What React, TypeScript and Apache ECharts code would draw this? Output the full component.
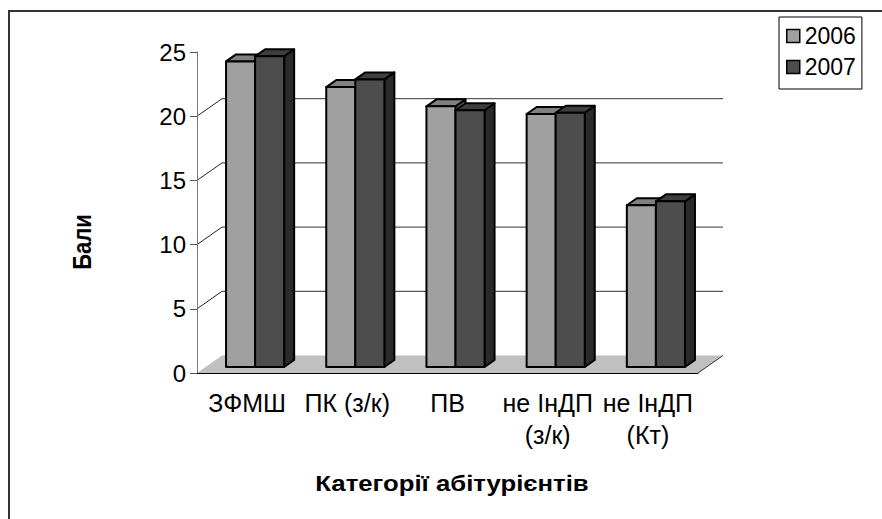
import React, { useEffect, useRef } from "react";
import * as echarts from "echarts";

const categories = ["ЗФМШ", "ПК (з/к)", "ПВ", "не ІнДП\n(з/к)", "не ІнДП\n(Кт)"];
const seriesNames = ["2006", "2007"];
const values2006 = [23.8, 21.8, 20.3, 19.7, 12.6];
const values2007 = [24.2, 22.4, 20.0, 19.8, 12.9];
const gridValues = [0, 5, 10, 15, 20];
const yTitle = "Бали";
const xTitle = "Категорії абітурієнтів";

const FONT = "'Liberation Sans', Arial, sans-serif";
const WALL_DX = 25;
const WALL_DY = -17.5;
const BAR_OFF_X = 8;
const BAR_OFF_Y = -6;
const BAR_DX = 10;
const BAR_DY = -7;
const BAR_FRAC = 0.29;

const faceColors = [
  { front: "#a0a0a0", top: "#808080", side: "#6a6a6a" },
  { front: "#4d4d4d", top: "#3e3e3e", side: "#2a2a2a" },
];

function makeBarRender(s: number) {
  return (params: any, api: any) => {
    const i = api.value(0);
    const v = api.value(1);
    const base = api.coord([i, 0]);
    const top = api.coord([i, v]);
    const cw = api.size([1, 0])[0];
    const bw = cw * BAR_FRAC;
    const x0 = base[0] - bw + s * bw + BAR_OFF_X;
    const x1 = x0 + bw;
    const yb = base[1] + BAR_OFF_Y;
    const yt = top[1] + BAR_OFF_Y;
    const c = faceColors[s];
    const stroke = { stroke: "#000", lineWidth: 2, lineJoin: "round" };
    return {
      type: "group",
      children: [
        {
          type: "polygon",
          shape: { points: [[x1, yt], [x1 + BAR_DX, yt + BAR_DY], [x1 + BAR_DX, yb + BAR_DY], [x1, yb]] },
          style: { fill: c.side, ...stroke },
        },
        {
          type: "polygon",
          shape: { points: [[x0, yt], [x1, yt], [x1 + BAR_DX, yt + BAR_DY], [x0 + BAR_DX, yt + BAR_DY]] },
          style: { fill: c.top, ...stroke },
        },
        {
          type: "rect",
          shape: { x: x0, y: yt, width: bw, height: yb - yt },
          style: { fill: c.front, ...stroke },
        },
      ],
    };
  };
}

function wallRender(params: any, api: any) {
  const v = api.value(1);
  const cs = params.coordSys;
  const left = cs.x;
  const right = cs.x + cs.width;
  const y = api.coord([0, v])[1];
  if (v === 0) {
    return {
      type: "group",
      children: [
        {
          type: "polygon",
          shape: { points: [[left, y], [right, y], [right + WALL_DX, y + WALL_DY], [left + WALL_DX, y + WALL_DY]] },
          style: { fill: "#c0c0c0", stroke: "none" },
        },
        {
          type: "line",
          shape: { x1: right, y1: y, x2: right + WALL_DX, y2: y + WALL_DY },
          style: { stroke: "#333", lineWidth: 1 },
        },
      ],
    };
  }
  return {
    type: "group",
    children: [
      {
        type: "line",
        shape: { x1: left, y1: y, x2: left + WALL_DX, y2: y + WALL_DY },
        style: { stroke: "#222", lineWidth: 1 },
      },
      {
        type: "line",
        shape: { x1: left + WALL_DX, y1: y + WALL_DY, x2: right + WALL_DX, y2: y + WALL_DY },
        style: { stroke: "#333", lineWidth: 1 },
      },
    ],
  };
}

export default function App() {
  const ref = useRef<HTMLDivElement>(null);
  useEffect(() => {
    if (!ref.current) return;
    document.body.style.margin = "0";
    const chart = echarts.init(ref.current, undefined, { renderer: "svg" });
    chart.setOption({
      animation: false,
      backgroundColor: "#fff",
      textStyle: { fontFamily: FONT },
      grid: { left: 197, top: 52, width: 501, height: 321, containLabel: false },
      legend: {
        orient: "vertical",
        left: 779,
        top: 17,
        icon: "rect",
        itemWidth: 13,
        itemHeight: 13,
        itemGap: 3,
        padding: [5, 6, 8, 7],
        borderColor: "#000",
        borderWidth: 1,
        textStyle: { fontFamily: FONT, fontSize: 23, color: "#000", lineHeight: 28 },
        data: seriesNames.map((n, s) => ({
          name: n,
          itemStyle: { color: faceColors[s].front, borderColor: "#000", borderWidth: 1.5 },
        })),
      },
      xAxis: {
        type: "category",
        data: categories,
        z: 5,
        axisLine: { lineStyle: { color: "#000", width: 1 } },
        axisTick: { length: 7, lineStyle: { color: "#666" } },
        axisLabel: {
          fontFamily: FONT,
          fontSize: 25,
          color: "#000",
          lineHeight: 32,
          margin: 14,
          interval: 0,
        },
        splitLine: { show: false },
      },
      yAxis: {
        type: "value",
        min: 0,
        max: 25,
        interval: 5,
        z: 5,
        axisLine: { show: true, lineStyle: { color: "#777", width: 1 } },
        axisTick: { show: true, length: 7, lineStyle: { color: "#555" } },
        axisLabel: { fontFamily: FONT, fontSize: 24, color: "#000", margin: 11 },
        splitLine: { show: false },
      },
      graphic: [
        {
          type: "rect",
          shape: { x: 9, y: 11, width: 900, height: 540 },
          style: { fill: "none", stroke: "#333", lineWidth: 2 },
          silent: true,
        },
        {
          type: "text",
          x: 82,
          y: 242,
          rotation: Math.PI / 2,
          scaleY: 1.15,
          style: {
            text: yTitle,
            font: `bold 22px ${FONT}`,
            fill: "#000",
            textAlign: "center",
            textVerticalAlign: "middle",
          },
        },
        {
          type: "text",
          x: 452,
          y: 483,
          scaleX: 1.17,
          style: {
            text: xTitle,
            font: `bold 22px ${FONT}`,
            fill: "#000",
            textAlign: "center",
            textVerticalAlign: "middle",
          },
        },
      ],
      series: [
        {
          type: "custom",
          name: "wall",
          z: 1,
          silent: true,
          renderItem: wallRender,
          encode: { x: 0, y: 1 },
          data: gridValues.map((v) => [0, v]),
        },
        ...[values2006, values2007].map((vals, s) => ({
          type: "custom",
          name: seriesNames[s],
          z: 2,
          renderItem: makeBarRender(s),
          encode: { x: 0, y: 1 },
          itemStyle: { color: faceColors[s].front, borderColor: "#000", borderWidth: 1.5 },
          data: vals.map((v, i) => [i, v]),
        })),
      ],
    });
    return () => chart.dispose();
  }, []);
  return <div ref={ref} style={{ width: 882, height: 519 }} />;
}
